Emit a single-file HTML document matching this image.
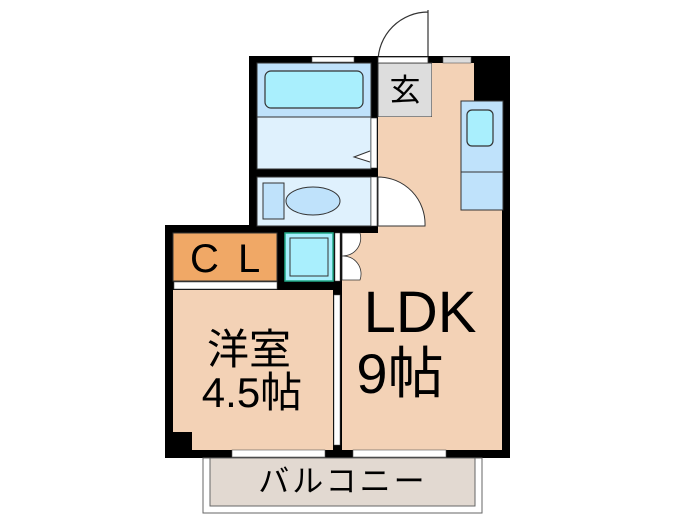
<!DOCTYPE html>
<html><head><meta charset="utf-8"><style>
html,body{margin:0;padding:0;background:#fff;width:700px;height:525px;overflow:hidden}
text{font-family:"Liberation Sans","Noto Sans CJK JP",sans-serif}
</style></head><body>
<svg width="700" height="525" viewBox="0 0 700 525" xmlns="http://www.w3.org/2000/svg">
<path d="M428 10 L428 62 M378 62 A50 50 0 0 1 428 12" fill="none" stroke="#333" stroke-width="1.2"/>
<rect x="249" y="56" width="261" height="175" fill="#000"/>
<rect x="165" y="225" width="345" height="233" fill="#000"/>
<rect x="257" y="63" width="114" height="106" fill="#dff1fd" stroke="#333"/>
<rect x="257" y="63" width="114" height="54" fill="#bfe2fb" stroke="#333"/>
<rect x="265" y="71" width="98" height="37" rx="6" fill="#a9effd" stroke="#333" stroke-width="1.2"/>
<path d="M370 151 L354 157 L370 162" fill="#fff" stroke="#333"/>
<rect x="371" y="118" width="6" height="50" fill="#fff" stroke="#333" stroke-width=".6"/>
<rect x="312" y="57" width="42" height="5" fill="#fff" stroke="#555" stroke-width=".6"/>
<rect x="257" y="177" width="114" height="49" fill="#dff1fd" stroke="#333"/>
<rect x="263" y="183" width="21" height="36" fill="#bfe2fb" stroke="#333"/>
<ellipse cx="313" cy="201" rx="27" ry="14" fill="#bfe2fb" stroke="#333"/>
<rect x="371" y="177" width="6" height="49" fill="#fff" stroke="#333" stroke-width=".6"/>
<rect x="378" y="63" width="54" height="54" fill="#ddd" stroke="#333"/>
<text x="405" y="101" font-size="31" text-anchor="middle">玄</text>
<rect x="378" y="57" width="50" height="6" fill="#fff" stroke="#333" stroke-width=".8"/>
<path d="M432 63 L474 63 L474 101 L502 101 L502 450 L342 450 L342 233 L378 233 L378 117 L432 117 Z" fill="#f3d2b6"/>
<rect x="443" y="57" width="28" height="6" fill="#ddd" stroke="#555" stroke-width=".6"/>
<path d="M378 177 A47 47 0 0 1 425 226 L378 226 Z" fill="#fff" stroke="#333"/>
<rect x="461" y="101" width="42" height="109" fill="#bfe2fb" stroke="#333"/>
<line x1="461" y1="172" x2="503" y2="172" stroke="#333"/>
<rect x="467" y="110" width="26" height="36" rx="5" fill="#a9effd" stroke="#333" stroke-width="1.2"/>
<rect x="173" y="233" width="104" height="48" fill="#f0a866" stroke="#333"/>
<text x="190" y="272" font-size="40">C</text>
<text x="238" y="272" font-size="40">L</text>
<rect x="174" y="282" width="103" height="7" fill="#fff" stroke="#555" stroke-width=".6"/>
<rect x="285" y="233" width="48" height="48" fill="#a9effd" stroke="#2a8" stroke-width="1.5"/>
<rect x="290" y="238" width="38" height="38" fill="#a9effd" stroke="#333"/>
<rect x="335" y="233" width="5" height="48" fill="#fff" stroke="#555" stroke-width=".5"/>
<path d="M342 233 L360 233 A18 18 0 0 1 342 256 A18 18 0 0 1 360 280 L342 280 Z" fill="#fff" stroke="#333" stroke-width=".8"/>
<path d="M173 290 L333 290 L333 450 L192 450 L192 432 L173 432 Z" fill="#f3d2b6"/>
<rect x="334" y="295" width="6" height="150" fill="#fff" stroke="#555" stroke-width=".5"/>
<text x="249" y="364" font-size="42" text-anchor="middle">洋室</text>
<text x="252" y="407" font-size="42" text-anchor="middle">4.5帖</text>
<text x="420" y="332" font-size="58" text-anchor="middle">LDK</text>
<text x="400" y="393" font-size="56" text-anchor="middle">9帖</text>
<rect x="232" y="450" width="93" height="7" fill="#fff" stroke="#555" stroke-width=".6"/>
<rect x="353" y="450" width="93" height="7" fill="#fff" stroke="#555" stroke-width=".6"/>
<rect x="203" y="458" width="279" height="55" fill="#fff" stroke="#666"/>
<rect x="210" y="458" width="265" height="48" fill="#e2d9d1" stroke="#666"/>
<text x="343" y="492" font-size="31" text-anchor="middle" letter-spacing="3">バルコニー</text>
</svg>
</body></html>
